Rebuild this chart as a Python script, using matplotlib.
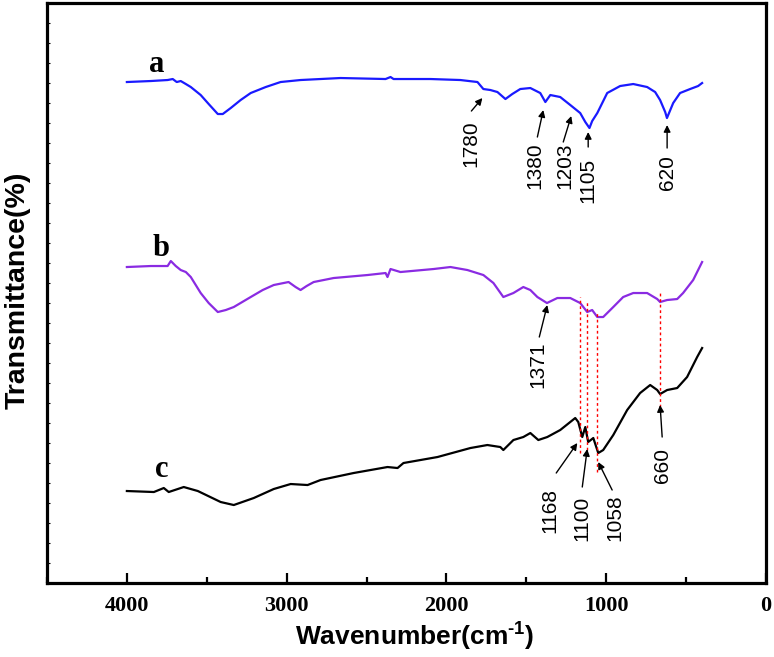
import matplotlib
matplotlib.use("Agg")
import matplotlib.pyplot as plt
from matplotlib.ticker import MultipleLocator

plt.rcParams["mathtext.fontset"] = "custom"
plt.rcParams["mathtext.rm"] = "Liberation Sans:bold"
plt.rcParams["mathtext.bf"] = "Liberation Sans:bold"

# FTIR spectra (wavenumber in cm-1, transmittance in arbitrary offset units)
wn_a = [4000, 3850, 3745, 3713, 3688, 3663, 3631, 3600, 3538, 3488, 3431, 3400, 3350, 3288,
        3225, 3131, 3038, 2913, 2663, 2381, 2350, 2331, 2288, 2100, 1913, 1806, 1769, 1725,
        1681, 1631, 1588, 1538, 1475, 1413, 1381, 1350, 1288, 1225, 1163, 1131, 1105, 1088,
        1056, 994, 913, 831, 744, 694, 663, 631, 620, 594, 581, 538, 475, 425, 400]
tr_a = [25.05, 25.1, 25.15, 25.2, 25.05, 25.1, 24.95, 24.8, 24.4, 23.95, 23.45, 23.45, 23.75, 24.15,
        24.5, 24.8, 25.05, 25.15, 25.25, 25.2, 25.3, 25.2, 25.2, 25.2, 25.15, 25.05, 24.7, 24.65,
        24.55, 24.2, 24.45, 24.7, 24.75, 24.5, 24.05, 24.4, 24.3, 23.9, 23.5, 23.05, 22.75, 23.1,
        23.5, 24.5, 24.85, 24.95, 24.8, 24.55, 24.15, 23.55, 23.25, 23.75, 24.0, 24.5, 24.7, 24.85, 25.0]

wn_b = [4000, 3850, 3745, 3725, 3694, 3663, 3631, 3600, 3538, 3488, 3431, 3381, 3331, 3225,
        3150, 3081, 2988, 2944, 2913, 2875, 2831, 2706, 2494, 2381, 2369, 2350, 2288, 2081,
        1975, 1869, 1769, 1706, 1644, 1581, 1519, 1475, 1431, 1371, 1306, 1225, 1163, 1119,
        1088, 1056, 1019, 956, 894, 831, 744, 681, 663, 619, 556, 519, 456, 400]
tr_b = [15.8, 15.85, 15.85, 16.1, 15.85, 15.65, 15.55, 15.3, 14.5, 14.0, 13.55, 13.65, 13.8, 14.3,
        14.65, 14.9, 15.05, 14.8, 14.65, 14.85, 15.05, 15.25, 15.4, 15.5, 15.3, 15.7, 15.55, 15.7,
        15.8, 15.65, 15.4, 15.0, 14.3, 14.5, 14.8, 14.65, 14.3, 14.0, 14.25, 14.25, 14.0, 13.55,
        13.65, 13.3, 13.3, 13.8, 14.3, 14.5, 14.5, 14.2, 14.05, 14.15, 14.2, 14.5, 15.15, 16.05]

wn_c = [4000, 3831, 3769, 3738, 3644, 3556, 3413, 3331, 3206, 3081, 2975, 2869, 2788, 2581,
        2369, 2306, 2269, 2056, 1850, 1744, 1663, 1644, 1581, 1519, 1475, 1425, 1369, 1288,
        1194, 1175, 1150, 1131, 1113, 1081, 1050, 1019, 956, 869, 788, 725, 681, 663, 619,
        556, 494, 431, 400]
tr_c = [4.6, 4.55, 4.75, 4.55, 4.8, 4.6, 4.05, 3.9, 4.25, 4.7, 4.95, 4.9, 5.15, 5.5,
        5.8, 5.75, 6.0, 6.3, 6.75, 6.9, 6.8, 6.65, 7.15, 7.3, 7.5, 7.15, 7.3, 7.65,
        8.25, 8.05, 7.3, 7.8, 7.05, 7.25, 6.5, 6.65, 7.4, 8.65, 9.5, 9.9, 9.65, 9.45, 9.65,
        9.75, 10.3, 11.3, 11.75]

# peak labels: text, text centre, arrow tail, arrow head
peak_labels = ["1780", "1380", "1203", "1105", "620", "1371", "1168", "1100", "1058", "660"]
label_pos = [(1850, 21.95), (1444, 20.85), (1256, 20.85), (1113, 20.15), (619, 20.5),
             (1425, 10.9), (1350, 3.65), (1150, 3.25), (944, 3.25), (650, 5.9)]
arrow_from = [(1844, 23.6), (1431, 22.3), (1269, 22.05), (1113, 21.8), (619, 21.75),
              (1419, 12.3), (1313, 5.5), (1150, 4.8), (963, 4.65), (650, 7.3)]
arrow_to = [(1775, 24.25), (1394, 23.65), (1219, 23.35), (1113, 22.55), (619, 22.9),
            (1369, 13.9), (1181, 7.0), (1119, 6.7), (1050, 6.05), (663, 8.9)]

# red guide lines between b and c
guide_wn = [1165, 1120, 1055, 662]
guide_top = [14.3, 14.15, 13.5, 14.55]
guide_bottom = [6.5, 6.65, 5.55, 8.8]

curve_names = ["a", "b", "c"]
name_pos = [(3813, 25.95), (3788, 16.75), (3781, 5.7)]

fig = plt.figure(figsize=(7.74, 6.57), dpi=100)
ax = fig.add_axes([0.0607, 0.1126, 0.929, 0.8828])

ax.plot(wn_a, tr_a, color="#1a1aff", lw=1.6)
ax.plot(wn_b, tr_b, color="#8a2be2", lw=1.6)
ax.plot(wn_c, tr_c, color="black", lw=1.6)

for w, t, b in zip(guide_wn, guide_top, guide_bottom):
    ax.plot([w, w], [b, t], color="red", lw=1, linestyle=(0, (2, 2)))

for lab, pos, p0, p1 in zip(peak_labels, label_pos, arrow_from, arrow_to):
    ax.annotate("", xy=p1, xytext=p0,
                arrowprops=dict(arrowstyle="-|>", color="black", lw=1, mutation_scale=10,
                                shrinkA=0, shrinkB=0))
    ax.text(pos[0], pos[1], lab, rotation=90, ha="center", va="center",
            fontsize=15, family="Liberation Sans")

for name, pos in zip(curve_names, name_pos):
    ax.text(pos[0], pos[1], name, ha="center", va="center", fontsize=22,
            fontweight="bold", family="Liberation Serif")

ax.set_xlim(4500, 0)
ax.set_ylim(0, 29)
ax.xaxis.set_major_locator(MultipleLocator(1000))
ax.xaxis.set_minor_locator(MultipleLocator(500))
ax.yaxis.set_major_locator(MultipleLocator(1))
ax.set_yticklabels([])
ax.tick_params(axis="x", which="major", direction="in", length=7, width=1.6, pad=9)
ax.tick_params(axis="x", which="minor", direction="in", length=4, width=1.6)
ax.tick_params(axis="y", which="major", direction="in", length=2.5, width=0.8)
for lbl in ax.get_xticklabels():
    lbl.set_family("Liberation Serif")
    lbl.set_fontweight("bold")
    lbl.set_fontsize(16)
for sp in ax.spines.values():
    sp.set_linewidth(2.3)

ax.set_xlabel("Wavenumber(cm$^{\\text{-1}}$)", fontsize=19, fontweight="bold",
              family="Liberation Sans")
ax.xaxis.set_label_coords(0.512, -0.062)
ax.set_ylabel("Transmittance(%)", fontsize=20.5, fontweight="bold", family="Liberation Sans")
ax.yaxis.set_label_coords(-0.023, 0.505)

fig.savefig("out.png", dpi=100)
